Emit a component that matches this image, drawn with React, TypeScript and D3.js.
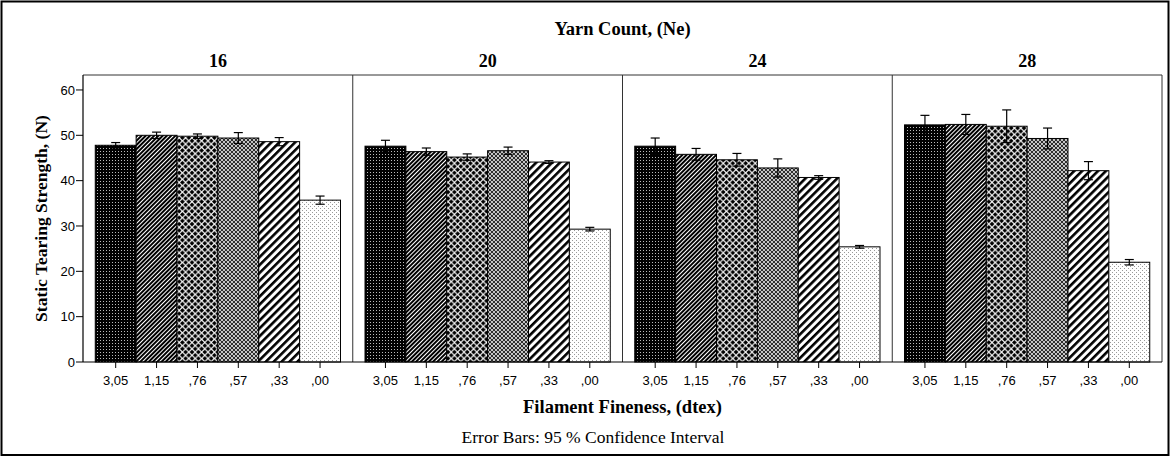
import React from "react";
import * as d3 from "d3";

const yarnCounts = ["16", "20", "24", "28"];
const fineness = ["3,05", "1,15", ",76", ",57", ",33", ",00"];

// mean tearing strength (N) per yarn count, in fineness order
const means16 = [47.8, 50.0, 49.8, 49.4, 48.6, 35.7];
const means20 = [47.6, 46.4, 45.2, 46.6, 44.1, 29.3];
const means24 = [47.6, 45.8, 44.6, 42.8, 40.7, 25.4];
const means28 = [52.3, 52.4, 52.0, 49.3, 42.2, 22.0];

// half width of the 95 % CI
const ci16 = [0.6, 0.7, 0.5, 1.2, 0.9, 0.9];
const ci20 = [1.3, 0.8, 0.7, 0.8, 0.3, 0.4];
const ci24 = [1.8, 1.3, 1.4, 2.0, 0.4, 0.3];
const ci28 = [2.1, 2.2, 3.6, 2.3, 2.0, 0.6];

const yTicks = [0, 10, 20, 30, 40, 50, 60];

const meansAll = [means16, means20, means24, means28];
const ciAll = [ci16, ci20, ci24, ci28];

const patternIds = ["p-305", "p-115", "p-076", "p-057", "p-033", "p-000"];

const SERIF = "'Liberation Serif', 'Times New Roman', serif";
const SANS = "'Liberation Sans', Arial, sans-serif";

const W = 1172;
const H = 458;
const plot = { left: 83, right: 1162, top: 75, bottom: 362 };

// diamond centred on (cx, cy) with half diagonal r
const diamond = (cx: number, cy: number, r: number) =>
  `M${cx},${cy - r}L${cx + r},${cy}L${cx},${cy + r}L${cx - r},${cy}Z`;

const diamondTile = (s: number, r: number) =>
  [diamond(0, 0, r), diamond(s, 0, r), diamond(0, s, r), diamond(s, s, r), diamond(s / 2, s / 2, r)].join("");

function Patterns() {
  return (
    <defs>
      {/* dark, small white dots */}
      <pattern id="p-305" patternUnits="userSpaceOnUse" width={3} height={3}>
        <rect width={3} height={3} fill="#000" />
        <rect x={1} y={1} width={1} height={1} fill="#bbb" />
      </pattern>
      {/* dense forward diagonals */}
      <pattern id="p-115" patternUnits="userSpaceOnUse" width={3} height={3} patternTransform="rotate(45)">
        <rect width={3} height={3} fill="#fff" />
        <rect width={2} height={3} fill="#000" />
      </pattern>
      {/* black diamonds */}
      <pattern id="p-076" patternUnits="userSpaceOnUse" width={6.4} height={6.4}>
        <rect width={6.4} height={6.4} fill="#fff" />
        <path d={diamondTile(6.4, 2.4)} fill="#000" />
      </pattern>
      {/* fine crosshatch */}
      <pattern id="p-057" patternUnits="userSpaceOnUse" width={4} height={4}>
        <rect width={4} height={4} fill="#fff" />
        <path d={diamondTile(4, 1.5)} fill="#111" />
      </pattern>
      {/* wide forward diagonals */}
      <pattern id="p-033" patternUnits="userSpaceOnUse" width={5.6} height={5.6} patternTransform="rotate(45)">
        <rect width={5.6} height={5.6} fill="#fff" />
        <rect width={2.6} height={5.6} fill="#000" />
      </pattern>
      {/* light dots */}
      <pattern id="p-000" patternUnits="userSpaceOnUse" width={4} height={4}>
        <rect width={4} height={4} fill="#fff" />
        <rect x={0} y={0} width={1} height={1} fill="#999" />
        <rect x={2} y={2} width={1} height={1} fill="#999" />
      </pattern>
    </defs>
  );
}

export default function App() {
  const x0 = d3.scaleBand<string>().domain(yarnCounts).range([plot.left, plot.right]).padding(0);
  const x1 = d3
    .scaleBand<string>()
    .domain(fineness)
    .range([0, x0.bandwidth()])
    .paddingInner(0)
    .paddingOuter(0.3);
  const y = d3.scaleLinear().domain([0, 63.3]).range([plot.bottom, plot.top]);

  const capHalf = 4.5;

  return (
    <svg
      width={W}
      height={H}
      viewBox={`0 0 ${W} ${H}`}
      style={{ position: "absolute", left: 0, top: 0, background: "#fff" }}
    >
      <Patterns />
      <rect x={0} y={0} width={W} height={H} fill="#fff" />
      <rect x={1.5} y={1.5} width={1167} height={453.5} fill="none" stroke="#000" strokeWidth={2} />

      <text x={(plot.left + plot.right) / 2} y={35} textAnchor="middle" fontFamily={SERIF} fontWeight="bold" fontSize={18.5}>
        Yarn Count, (Ne)
      </text>

      {/* panels */}
      {yarnCounts.map((yc, pi) => {
        const px = x0(yc)!;
        const means = meansAll[pi];
        const ci = ciAll[pi];
        return (
          <g key={yc}>
            <text x={px + x0.bandwidth() / 2} y={67} textAnchor="middle" fontFamily={SERIF} fontWeight="bold" fontSize={18}>
              {yc}
            </text>
            {fineness.map((f, i) => {
              const bx = px + x1(f)!;
              return (
                <rect
                  key={f}
                  x={bx}
                  y={y(means[i])}
                  width={x1.bandwidth()}
                  height={y(0) - y(means[i])}
                  fill={`url(#${patternIds[i]})`}
                  stroke="#000"
                  strokeWidth={1}
                />
              );
            })}
            {fineness.map((f, i) => {
              const cx = px + x1(f)! + x1.bandwidth() / 2;
              const hi = y(means[i] + ci[i]);
              const lo = y(means[i] - ci[i]);
              return (
                <g key={"e" + f} stroke="#000" strokeWidth={1.2}>
                  <line x1={cx} x2={cx} y1={hi} y2={lo} />
                  <line x1={cx - capHalf} x2={cx + capHalf} y1={hi} y2={hi} />
                  <line x1={cx - capHalf} x2={cx + capHalf} y1={lo} y2={lo} />
                </g>
              );
            })}
            {fineness.map((f) => {
              const cx = px + x1(f)! + x1.bandwidth() / 2;
              return (
                <g key={"t" + f}>
                  <line x1={cx} x2={cx} y1={plot.bottom} y2={plot.bottom + 6} stroke="#000" strokeWidth={1} />
                  <text x={cx} y={385} textAnchor="middle" fontFamily={SANS} fontSize={13}>
                    {f}
                  </text>
                </g>
              );
            })}
            <line
              x1={px + x0.bandwidth()}
              x2={px + x0.bandwidth()}
              y1={plot.top}
              y2={plot.bottom}
              stroke="#333"
              strokeWidth={1}
            />
          </g>
        );
      })}

      {/* frame top and axes */}
      <line x1={plot.left} x2={plot.right} y1={plot.top} y2={plot.top} stroke="#333" strokeWidth={1} />
      <line x1={plot.left} x2={plot.right} y1={plot.bottom} y2={plot.bottom} stroke="#000" strokeWidth={1.2} />
      <line x1={plot.left} x2={plot.left} y1={plot.top} y2={plot.bottom} stroke="#000" strokeWidth={1.2} />

      {yTicks.map((t) => (
        <g key={t}>
          <line x1={plot.left - 7} x2={plot.left} y1={y(t)} y2={y(t)} stroke="#000" strokeWidth={1} />
          <text x={plot.left - 8} y={y(t)} dy="0.35em" textAnchor="end" fontFamily={SANS} fontSize={13}>
            {t}
          </text>
        </g>
      ))}

      <text
        transform={`translate(47,${(plot.top + plot.bottom) / 2}) rotate(-90)`}
        textAnchor="middle"
        fontFamily={SERIF}
        fontWeight="bold"
        fontSize={17.5}
      >
        Static Tearing Strength, (N)
      </text>

      <text x={(plot.left + plot.right) / 2} y={413} textAnchor="middle" fontFamily={SERIF} fontWeight="bold" fontSize={18.5}>
        Filament Fineness, (dtex)
      </text>
      <text x={593} y={443} textAnchor="middle" fontFamily={SERIF} fontSize={17.5}>
        Error Bars: 95 % Confidence Interval
      </text>
    </svg>
  );
}
